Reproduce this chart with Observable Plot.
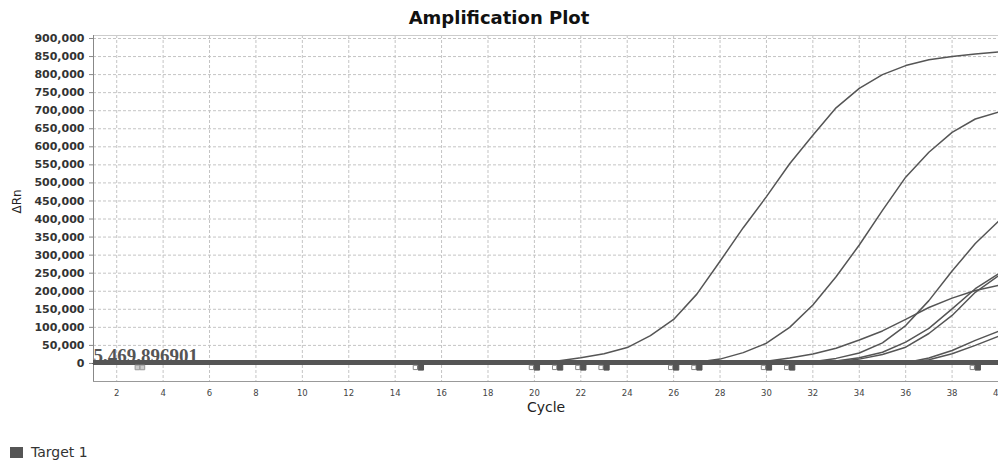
<!DOCTYPE html>
<html>
<head>
<meta charset="utf-8">
<script src="https://cdn.jsdelivr.net/npm/d3@7"></script>
<script src="https://cdn.jsdelivr.net/npm/@observablehq/plot@0.6"></script>
<style>
  body { margin: 0; background: #fff; font-family: "DejaVu Sans", sans-serif; }
  #wrap { position: relative; width: 998px; height: 462px; overflow: hidden; }
  #title { position: absolute; left: 0; top: 3px; width: 998px; text-align: center;
           font: bold 18px "DejaVu Sans"; line-height: 30px; color: #111; }
  #chart { position: absolute; left: 0; top: 30px; }
  #legend { position: absolute; left: 10px; top: 444px; font: 14px "DejaVu Sans"; color: #333;
            display: flex; align-items: center; }
  #legend .sw { width: 13px; height: 11px; background: #555; margin-right: 8px; }
  #chart g[aria-label="y-axis tick label"] text { font-weight: bold; }
</style>
</head>
<body>
<div id="wrap">
  <div id="title">Amplification Plot</div>
  <div id="chart"></div>
  <div id="legend"><div class="sw"></div><span>Target 1</span></div>
</div>
<script>
// ---- data ----
const cycles = [1,2,3,4,5,6,7,8,9,10,11,12,13,14,15,16,17,18,19,20,21,22,23,24,25,26,27,28,29,30,31,32,33,34,35,36,37,38,39,40];
const xTicks = [2,4,6,8,10,12,14,16,18,20,22,24,26,28,30,32,34,36,38,40];
const yTicks = [0,50000,100000,150000,200000,250000,300000,350000,400000,450000,500000,550000,600000,650000,700000,750000,800000,850000,900000];
const threshold = 5469.896901;
const thresholdLabel = "5,469.896901";

const curveA = [0,0,0,0,0,0,0,0,0,0,0,0,0,0,0,0,0,0,0,2000,7000,16000,27000,44000,77000,122000,192000,283000,376000,462000,553000,632000,708000,762000,800000,825000,841000,850000,857000,863000];
const curveB = [0,0,0,0,0,0,0,0,0,0,0,0,0,0,0,0,0,0,0,0,0,0,0,0,0,0,3000,12000,30000,56000,100000,162000,240000,328000,424000,516000,585000,640000,677000,696000];
const curveC = [0,0,0,0,0,0,0,0,0,0,0,0,0,0,0,0,0,0,0,0,0,0,0,0,0,0,0,0,0,0,1000,5000,14000,29000,57000,105000,174000,256000,332000,394000];
const curveD = [0,0,0,0,0,0,0,0,0,0,0,0,0,0,0,0,0,0,0,0,0,0,0,0,0,0,0,0,0,6000,15000,26000,42000,65000,90000,122000,155000,181000,202000,216000];
const curveE = [0,0,0,0,0,0,0,0,0,0,0,0,0,0,0,0,0,0,0,0,0,0,0,0,0,0,0,0,0,0,0,2000,7000,16000,31000,59000,97000,151000,207000,248000];
const curveF = [0,0,0,0,0,0,0,0,0,0,0,0,0,0,0,0,0,0,0,0,0,0,0,0,0,0,0,0,0,0,0,0,4000,12000,25000,45000,83000,133000,197000,243000];
const curveG = [0,0,0,0,0,0,0,0,0,0,0,0,0,0,0,0,0,0,0,0,0,0,0,0,0,0,0,0,0,0,0,0,0,0,0,2000,15000,36000,64000,89000];
const curveH = [0,0,0,0,0,0,0,0,0,0,0,0,0,0,0,0,0,0,0,0,0,0,0,0,0,0,0,0,0,0,0,0,0,0,0,1000,10000,27000,50000,75000];

const baselineStart = [3];
const baselineEnds = [15,20,21,22,23,26,27,30,31,39];

// ---- build table ----
const curves = {A: curveA, B: curveB, C: curveC, D: curveD, E: curveE, F: curveF, G: curveG, H: curveH};
const rows = [];
for (const [well, vals] of Object.entries(curves)) {
  vals.forEach((v, i) => rows.push({well, cycle: cycles[i], value: v}));
}

const gridStyle = {stroke: "#c4c4c4", strokeOpacity: 1, strokeDasharray: "3,2", strokeWidth: 1};

const plot = Plot.plot({
  width: 998,
  height: 392,
  marginLeft: 93,
  marginRight: 0,
  marginTop: 5,
  marginBottom: 41,
  style: {fontFamily: "DejaVu Sans", background: "#fff", color: "#333", overflow: "visible"},
  x: {domain: [1, 40]},
  y: {domain: [-50000, 908300]},
  marks: [
    Plot.gridX(xTicks, gridStyle),
    Plot.gridY(yTicks, gridStyle),
    Plot.frame({stroke: "#ccc"}),
    Plot.ruleX([1], {stroke: "#888"}),
    Plot.ruleY([-50000], {stroke: "#999"}),
    Plot.axisY(yTicks, {tickFormat: d3.format(","), tickSize: 4, tickPadding: 5, fontSize: 11, stroke: "#888", fill: "#333", label: null}),
    Plot.axisX(xTicks, {tickSize: 0, tickPadding: 8, fontSize: 8.5, fill: "#444", label: null}),
    Plot.text(["Cycle"], {frameAnchor: "bottom", dy: 26, fontSize: 14, fill: "#222", lineAnchor: "middle"}),
    Plot.text(["ΔRn"], {frameAnchor: "left", dx: -76, dy: 5, rotate: -90, fontSize: 12, fill: "#222"}),
    Plot.line(rows, {x: "cycle", y: "value", z: "well", stroke: "#555", strokeWidth: 1.5}),
    Plot.ruleY([0], {stroke: "#555", strokeWidth: 3}),
    Plot.ruleY([threshold], {stroke: "#555", strokeWidth: 3}),
    Plot.text([thresholdLabel], {x: 1, y: threshold, textAnchor: "start", lineAnchor: "bottom", dy: 1, dx: 0,
      fontFamily: "Liberation Serif", fontWeight: "bold", fontSize: 19, fill: "#555"}),
    Plot.dot(baselineStart, {x: d => d, y: 0, dy: 4, dx: -2.5, symbol: "square", r: 2.6, fill: "#ccc", stroke: "#999", strokeWidth: 1}),
    Plot.dot(baselineStart, {x: d => d, y: 0, dy: 4, dx: 2.5, symbol: "square", r: 2.6, fill: "#ccc", stroke: "#999", strokeWidth: 1}),
    Plot.dot(baselineEnds, {x: d => d, y: 0, dy: 4, dx: -3, symbol: "square", r: 2.4, fill: "#fff", stroke: "#888", strokeWidth: 1}),
    Plot.dot(baselineEnds, {x: d => d, y: 0, dy: 4, dx: 2.5, symbol: "square", r: 3, fill: "#555", stroke: "#555", strokeWidth: 1})
  ]
});
document.getElementById("chart").appendChild(plot);
</script>
</body>
</html>
